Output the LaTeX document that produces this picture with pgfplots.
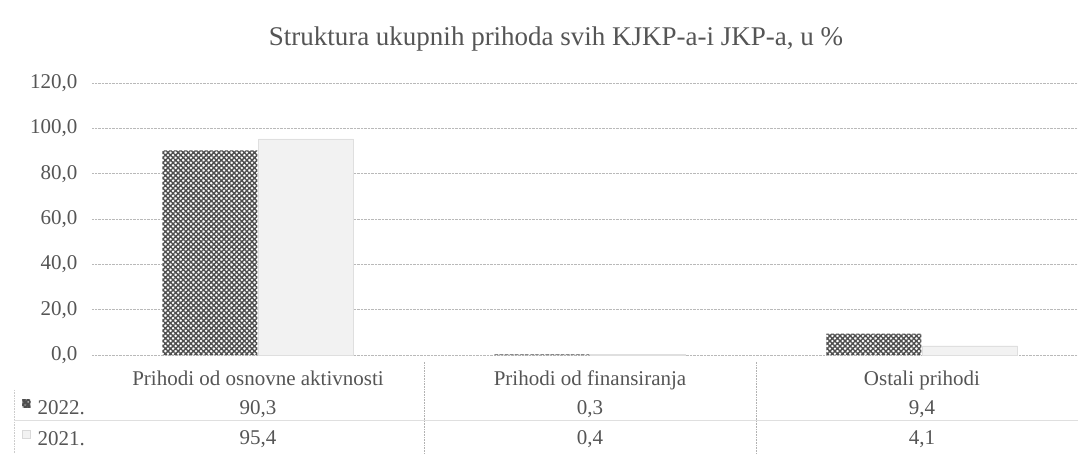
\documentclass[border=0pt]{standalone}
\usepackage{fontspec}
\setmainfont{Liberation Serif}
\usepackage{pgfplots}
\pgfplotsset{compat=1.18}
\usetikzlibrary{patterns.meta}
\definecolor{txt}{HTML}{555555}
\definecolor{hatch}{HTML}{4E4E4E}
\definecolor{light}{HTML}{F2F2F2}
\begin{document}
\begin{tikzpicture}
\useasboundingbox (0,0) rectangle (1078pt,453pt);
\begin{axis}[
 scale only axis, width=996pt, height=272pt, at={(92pt,98pt)}, anchor=south west,
 xmin=-0.5, xmax=2.5, ymin=0, ymax=120,
 ytick={0,20,...,120}, xtick={0,1,2},
 xticklabels={{Prihodi od osnovne aktivnosti\\90,3\\95,4}, {Prihodi od finansiranja\\0,3\\0,4}, {Ostali prihodi\\9,4\\4,1}},
 xticklabel style={align=center, font=\fontsize{21}{29.5}\selectfont, text=txt, anchor=north, yshift=-12pt},
 yticklabel style={font=\fontsize{21}{24}\selectfont, text=txt, anchor=east, xshift=-11pt},
 /pgf/number format/fixed, /pgf/number format/fixed zerofill, /pgf/number format/precision=1,
 /pgf/number format/use comma, /pgf/number format/assume math mode=true,
 axis line style={draw=none}, major tick length=0pt,
 ymajorgrids, grid style={densely dotted, gray!55, line width=0.6pt},
 clip=false,
 title={Struktura ukupnih prihoda svih KJKP-a-i JKP-a, u \%},
 title style={font=\fontsize{27}{30}\selectfont, text=txt, anchor=center, at={(axis description cs:0.5,1)}, yshift=38pt, xshift=-34pt},
 legend style={at={(axis description cs:0,0)}, anchor=north west, xshift=-70pt, yshift=-44pt,
   draw=none, fill=none, font=\fontsize{21}{24}\selectfont, text=txt, inner sep=0pt, row sep=10.5pt,
   nodes={inner sep=0pt, text height=14pt, text depth=5pt},
   /tikz/every odd column/.style={column sep=7pt}},
 legend cell align=left,
]
\addplot[ybar, bar width=0.286, bar shift=-0.145, draw=none, fill=white,
  postaction={pattern={Hatch[angle=45, distance=3.6pt, line width=1.4pt]}, pattern color=hatch},
  legend image code/.code={\fill[white] (0pt,3pt) rectangle (8pt,11pt); \fill[pattern={Hatch[angle=45, distance=2.5pt, line width=0.9pt]}, pattern color=hatch] (0pt,3pt) rectangle (8pt,11pt);}]
  coordinates {(0,90.3) (1,0.3) (2,9.4)};
\addplot[ybar, bar width=0.286, bar shift=0.145, draw=gray!25, fill=light,
  legend image code/.code={\draw[gray!30, fill=light] (0pt,3pt) rectangle (8pt,11pt);}]
  coordinates {(0,95.4) (1,0.4) (2,4.1)};
\legend{2022., 2021.}
\draw[densely dotted, gray!60, line width=0.6pt] (axis cs:0.5,-3) -- (axis cs:0.5,-44);
\draw[densely dotted, gray!60, line width=0.6pt] (axis cs:1.5,-3) -- (axis cs:1.5,-44);
\draw[densely dotted, gray!40, line width=0.6pt] (axis cs:-0.735,-15.4) -- (axis cs:-0.735,-44);
\draw[gray!25, line width=0.8pt] (axis cs:-0.735,-28.7) -- (axis cs:2.5,-28.7);
\end{axis}
\end{tikzpicture}
\end{document}
